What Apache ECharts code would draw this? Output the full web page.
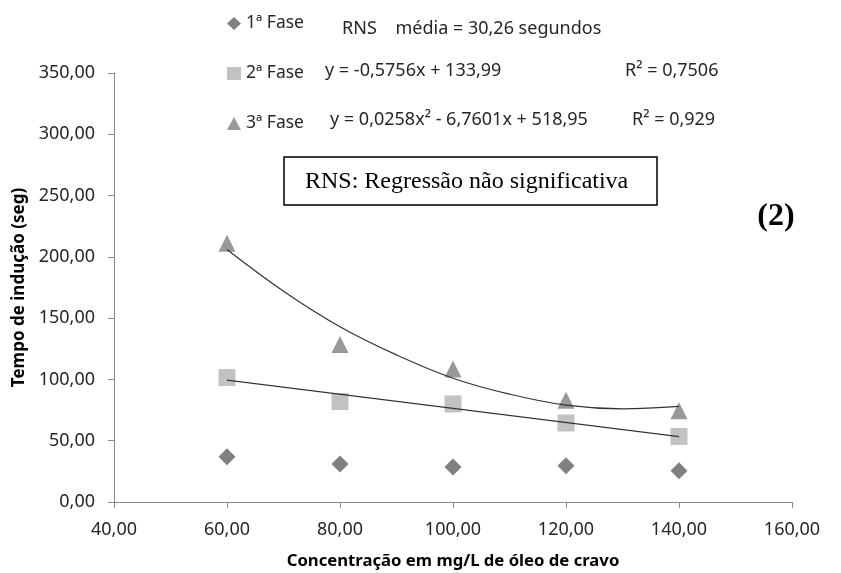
<!DOCTYPE html>
<html><head><meta charset="utf-8">
<script src="https://cdn.jsdelivr.net/npm/echarts@6/dist/echarts.min.js"></script>
<style>html,body{margin:0;padding:0;background:#fff}#c{width:841px;height:573px}</style>
</head><body><div id="c"></div>
<script>
// ---- data ----
const concentrations = [60, 80, 100, 120, 140];
const fase1 = [37, 31, 28.5, 29.5, 25.5];
const fase2 = [101.5, 82, 80, 64.5, 53.5];
const fase3 = [211, 128.5, 108.5, 83, 74.5];
const trend2X = [60, 140];
const trend2Y = [99.5, 53.4];
const trend3X = [60, 70, 80, 90, 100, 110, 120, 130, 140];
const trend3Y = [206, 172, 143, 120, 101, 88, 79, 76, 78];
const seriesNames = ['1ª Fase', '2ª Fase', '3ª Fase'];
const eqTexts = ['RNS    média = 30,26 segundos', 'y = -0,5756x + 133,99', 'R² = 0,7506', 'y = 0,0258x² - 6,7601x + 518,95', 'R² = 0,929'];
const boxText = 'RNS: Regressão não significativa';
const panelLabel = '(2)';
const xName = 'Concentração em mg/L de óleo de cravo';
const yName = 'Tempo de indução (seg)';

const pair = (xs, ys) => xs.map((x, i) => [x, ys[i]]);
const fmt = v => v.toFixed(2).replace('.', ',');
const FONT = '"Noto Sans", sans-serif';
const axisCol = '#8a8a8a';
const txtCol = '#262626';

const chart = echarts.init(document.getElementById('c'), null, {renderer: 'canvas'});
chart.setOption({
  backgroundColor: '#fff',
  animation: false,
  grid: {left: 114, right: 49, top: 73, bottom: 71, containLabel: false, outerBoundsMode: 'none'},
  xAxis: {
    type: 'value', min: 40, max: 160, interval: 20,
    name: xName, nameLocation: 'middle', nameGap: 51,
    nameTextStyle: {fontFamily: FONT, fontWeight: 'bold', fontSize: 16.7, color: '#000'},
    axisLine: {show: true, lineStyle: {color: axisCol, width: 1}},
    axisTick: {show: true, length: 6, lineStyle: {color: axisCol}},
    axisLabel: {formatter: fmt, fontFamily: FONT, fontSize: 18, color: txtCol, margin: 19},
    splitLine: {show: false}
  },
  yAxis: {
    type: 'value', min: 0, max: 350, interval: 50,
    name: yName, nameLocation: 'middle', nameGap: 83,
    nameTextStyle: {fontFamily: FONT, fontWeight: 'bold', fontSize: 17, color: '#000'},
    axisLine: {show: true, lineStyle: {color: axisCol, width: 1}},
    axisTick: {show: true, length: 6, lineStyle: {color: axisCol}},
    axisLabel: {formatter: fmt, fontFamily: FONT, fontSize: 18, color: txtCol, margin: 19},
    splitLine: {show: false}
  },
  legend: {
    orient: 'vertical', left: 222, top: 9, itemGap: 31,
    itemWidth: 14, itemHeight: 13,
    textStyle: {fontFamily: FONT, fontSize: 17.5, color: txtCol, lineHeight: 19},
    data: [
      {name: seriesNames[0], icon: 'diamond'},
      {name: seriesNames[1], icon: 'rect'},
      {name: seriesNames[2], icon: 'triangle'}
    ]
  },
  series: [
    {name: 'trend2', type: 'line', data: pair(trend2X, trend2Y), symbol: 'none',
     lineStyle: {color: '#333', width: 1.2}, z: 3, silent: true},
    {name: 'trend3', type: 'line', data: pair(trend3X, trend3Y), symbol: 'none', smooth: 0.4,
     lineStyle: {color: '#333', width: 1.2}, z: 3, silent: true},
    {name: seriesNames[0], type: 'scatter', data: pair(concentrations, fase1), symbol: 'diamond', symbolSize: [17, 17],
     itemStyle: {color: '#606060'}, z: 2},
    {name: seriesNames[1], type: 'scatter', data: pair(concentrations, fase2), symbol: 'rect', symbolSize: 17,
     itemStyle: {color: '#b3b3b3'}, z: 2},
    {name: seriesNames[2], type: 'scatter', data: pair(concentrations, fase3), symbol: 'triangle', symbolSize: 17,
     itemStyle: {color: '#808080'}, z: 2}
  ],
  graphic: [
    {type: 'text', x: 342, y: 29, style: {text: eqTexts[0], font: '18px ' + FONT, fill: txtCol, verticalAlign: 'middle'}},
    {type: 'text', x: 325, y: 71, style: {text: eqTexts[1], font: '18px ' + FONT, fill: txtCol, verticalAlign: 'middle'}},
    {type: 'text', x: 625, y: 71, style: {text: eqTexts[2], font: '18px ' + FONT, fill: txtCol, verticalAlign: 'middle'}},
    {type: 'text', x: 330, y: 120, style: {text: eqTexts[3], font: '18px ' + FONT, fill: txtCol, verticalAlign: 'middle'}},
    {type: 'text', x: 632, y: 120, style: {text: eqTexts[4], font: '18px ' + FONT, fill: txtCol, verticalAlign: 'middle'}},
    {type: 'rect', shape: {x: 284, y: 157, width: 373, height: 48}, style: {fill: '#fff', stroke: '#000', lineWidth: 1.5}, z: 10},
    {type: 'text', x: 305, y: 182, z: 11, style: {text: boxText, font: '24px "Liberation Serif", serif', fill: '#000', verticalAlign: 'middle'}},
    {type: 'text', x: 776, y: 217, style: {text: panelLabel, font: 'bold 32px "Liberation Serif", serif', fill: '#000', align: 'center', verticalAlign: 'middle'}}
  ]
});
</script></body></html>
